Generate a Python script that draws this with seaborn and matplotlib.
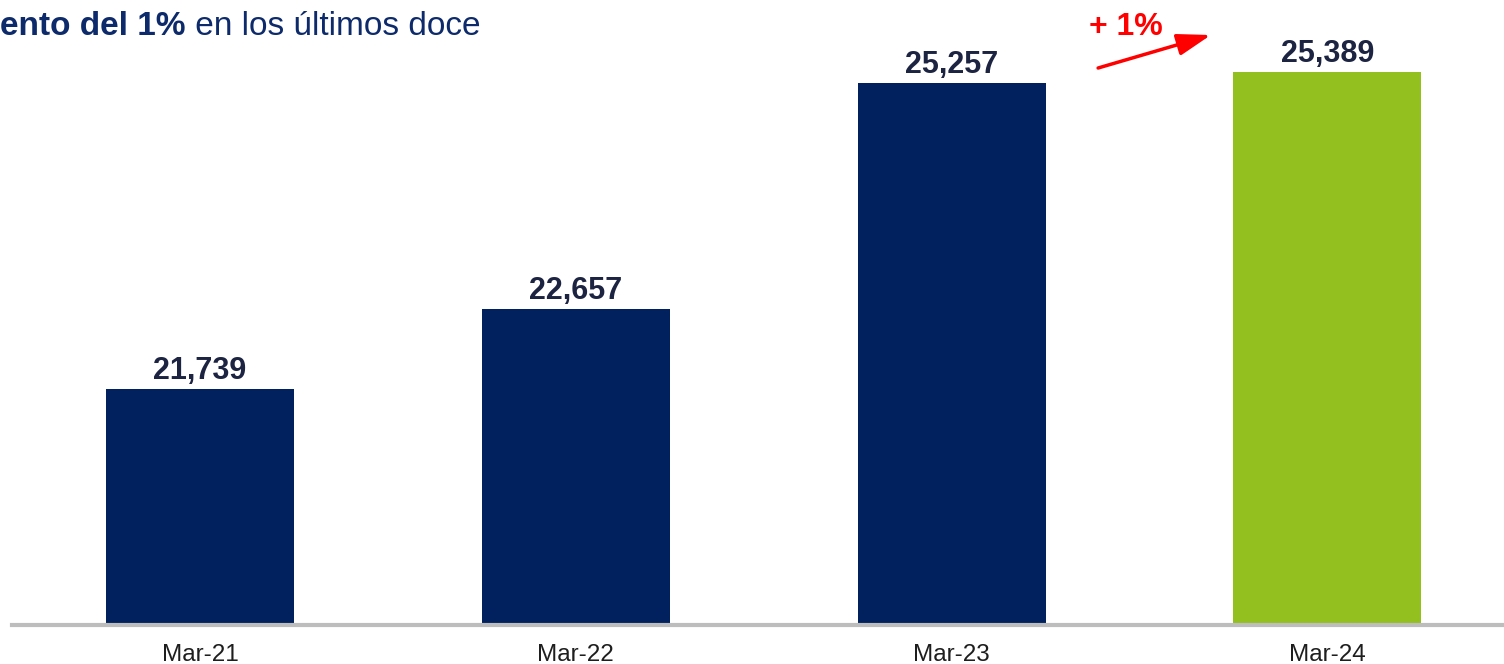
import matplotlib
matplotlib.use('Agg')
import matplotlib.pyplot as plt
import seaborn as sns
import pandas as pd

# data
periods = ["Mar-21", "Mar-22", "Mar-23", "Mar-24"]
values = [21739, 22657, 25257, 25389]
bar_colors = ["#00215e", "#00215e", "#00215e", "#93c01f"]
growth_label = "+ 1%"

sns.set_theme(style="white")
plt.rcParams['font.family'] = ['Liberation Sans', 'DejaVu Sans']

df = pd.DataFrame({"periodo": periods, "valor": values})

fig = plt.figure(figsize=(15.04, 6.64), dpi=100)
ax = fig.add_axes([12 / 1504, 39 / 664, 1492 / 1504, 625 / 664])

sns.barplot(data=df, x="periodo", y="valor", hue="periodo", palette=bar_colors,
            width=0.5, legend=False, ax=ax, saturation=1, linewidth=0)

ax.set_xlim(-0.5, 3.47)
ax.set_ylim(19022, 26218)

# value labels
for i, v in enumerate(values):
    ax.text(i, v + 35, f"{v:,}", ha="center", va="bottom",
            fontsize=22, fontweight="bold", color="#1c2442")

# baseline and ticks
for side in ["top", "right", "left"]:
    ax.spines[side].set_visible(False)
ax.spines["bottom"].set_color("#bdbdbd")
ax.spines["bottom"].set_linewidth(3)
ax.set_yticks([])
ax.set_xlabel("")
ax.set_ylabel("")
ax.tick_params(axis="x", length=0, pad=14)
for lab in ax.get_xticklabels():
    lab.set_fontsize(17.5)
    lab.set_color("#1e1e1e")

# growth arrow between last two bars
ax.annotate("", xy=(2.69, 25815), xytext=(2.39, 25435),
            arrowprops=dict(arrowstyle="-|>,head_length=1.7,head_width=0.55",
                            color="#ff0000", lw=2.5, shrinkA=0, shrinkB=0))
ax.text(2.465, 25740, growth_label, ha="center", va="bottom",
        fontsize=23, fontweight="bold", color="#ff0000")

# cut-off title fragment at top-left
t1 = fig.text(0.0, 1 - 35 / 664, "ento del 1%", fontsize=24, fontweight="bold",
              color="#0d2a6b", ha="left", va="baseline")
fig.canvas.draw()
bb = t1.get_window_extent()
fig.text(bb.x1 / fig.bbox.width, 1 - 35 / 664, " en los últimos doce", fontsize=24,
         color="#0d2a6b", ha="left", va="baseline")

fig.savefig("out.png", dpi=100)
